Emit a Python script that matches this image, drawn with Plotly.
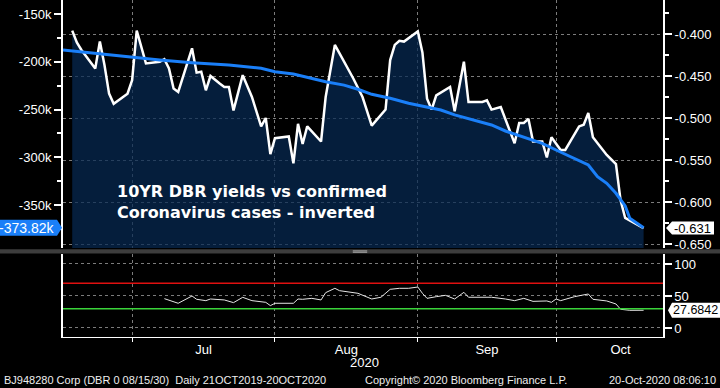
import plotly.graph_objects as go

# ---------------- data ----------------
yield_dates = ["2020-06-18","2020-06-19","2020-06-20","2020-06-23","2020-06-24","2020-06-25","2020-06-26","2020-06-27",
               "2020-06-30","2020-07-01","2020-07-02","2020-07-04","2020-07-07","2020-07-08","2020-07-09","2020-07-10",
               "2020-07-11","2020-07-14","2020-07-15","2020-07-16","2020-07-17","2020-07-18","2020-07-20","2020-07-21",
               "2020-07-22","2020-07-23","2020-07-25","2020-07-27","2020-07-29","2020-07-30","2020-07-31","2020-08-01",
               "2020-08-04","2020-08-05","2020-08-06","2020-08-07","2020-08-08","2020-08-11","2020-08-12","2020-08-14",
               "2020-08-18","2020-08-20","2020-08-22","2020-08-25","2020-08-26","2020-08-27","2020-08-28","2020-08-29",
               "2020-09-01","2020-09-02","2020-09-03","2020-09-04","2020-09-05","2020-09-08","2020-09-09","2020-09-11",
               "2020-09-12","2020-09-15","2020-09-16","2020-09-17","2020-09-19","2020-09-20","2020-09-22","2020-09-23",
               "2020-09-24","2020-09-25","2020-09-26","2020-09-28","2020-09-29","2020-09-30","2020-10-02","2020-10-03",
               "2020-10-06","2020-10-07","2020-10-08","2020-10-09","2020-10-11","2020-10-12","2020-10-14","2020-10-15",
               "2020-10-16","2020-10-18","2020-10-19","2020-10-20"]
yield_values = [-0.396,-0.410,-0.419,-0.441,-0.409,-0.437,-0.471,-0.483,-0.471,-0.455,-0.396,-0.435,-0.433,-0.430,
                -0.441,-0.465,-0.469,-0.417,-0.446,-0.445,-0.467,-0.450,-0.459,-0.463,-0.463,-0.491,-0.449,-0.475,
                -0.510,-0.500,-0.543,-0.524,-0.522,-0.554,-0.507,-0.531,-0.510,-0.528,-0.475,-0.413,-0.453,-0.475,
                -0.509,-0.490,-0.431,-0.413,-0.408,-0.409,-0.397,-0.422,-0.477,-0.490,-0.473,-0.463,-0.492,-0.433,
                -0.481,-0.481,-0.479,-0.490,-0.487,-0.502,-0.530,-0.506,-0.506,-0.501,-0.528,-0.528,-0.547,-0.523,
                -0.538,-0.538,-0.510,-0.508,-0.494,-0.523,-0.538,-0.544,-0.555,-0.598,-0.619,-0.625,-0.629,-0.631]

case_dates = ["2020-06-16","2020-06-18","2020-06-21","2020-06-23","2020-06-30","2020-07-07","2020-07-14","2020-07-22",
              "2020-07-29","2020-08-01","2020-08-05","2020-08-09","2020-08-12","2020-08-16","2020-08-19","2020-08-22",
              "2020-08-26","2020-08-30","2020-09-02","2020-09-06","2020-09-09","2020-09-13","2020-09-17","2020-09-20",
              "2020-09-24","2020-09-28","2020-10-01","2020-10-05","2020-10-08","2020-10-10","2020-10-12","2020-10-14",
              "2020-10-16","2020-10-17","2020-10-19","2020-10-20"]
case_values = [-187700,-188700,-190500,-191900,-195300,-198200,-201000,-203400,-206900,-210400,-212800,-217300,
               -220900,-224500,-228800,-234100,-238300,-243500,-246300,-250500,-255700,-261000,-266200,-272500,
               -279100,-285500,-292400,-301100,-308100,-320400,-327300,-337700,-351000,-363900,-370900,-373820]

rsi_dates = ["2020-07-08","2020-07-11","2020-07-14","2020-07-15","2020-07-17","2020-07-18","2020-07-21","2020-07-23",
             "2020-07-25","2020-07-27","2020-07-30","2020-07-31","2020-08-01","2020-08-05","2020-08-06","2020-08-07",
             "2020-08-09","2020-08-11","2020-08-12","2020-08-14","2020-08-15","2020-08-19","2020-08-22","2020-08-24",
             "2020-08-26","2020-08-28","2020-08-30","2020-09-01","2020-09-02","2020-09-03","2020-09-05","2020-09-07",
             "2020-09-09","2020-09-11","2020-09-12","2020-09-17","2020-09-20","2020-09-22","2020-09-24","2020-09-26",
             "2020-09-29","2020-09-30","2020-10-01","2020-10-02","2020-10-05","2020-10-08","2020-10-09","2020-10-12",
             "2020-10-14","2020-10-15","2020-10-17","2020-10-20"]
rsi_values = [45.8,38.6,50.0,44.8,42.7,45.3,43.8,39.6,47.9,42.7,40.1,34.9,38.6,38.6,45.3,44.8,46.3,43.8,55.2,62.0,
              58.3,54.2,45.3,48.0,60.4,62.0,62.0,64.0,54.2,46.3,48.9,51.0,45.3,55.7,48.0,48.0,45.3,42.7,46.3,41.6,
              42.2,40.1,45.3,42.7,48.9,53.1,44.8,42.2,37.5,29.2,27.6,27.6842]

month_label_dates = ["2020-07-16 12:00", "2020-08-16 12:00", "2020-09-16", "2020-10-15"]
month_labels = ["Jul", "Aug", "Sep", "Oct"]
case_ticks = [-150000, -200000, -250000, -300000, -350000]
case_ticktext = ["-150k", "-200k", "-250k", "-300k", "-350k"]
yield_ticks = [-0.400, -0.450, -0.500, -0.550, -0.600, -0.650]
yield_ticktext = ["-0.400", "-0.450", "-0.500", "-0.550", "-0.600", "-0.650"]
rsi_ticks = [0, 50, 100]
rsi_upper, rsi_lower = 70, 30

title_text = "10YR DBR yields vs confirmed<br>Coronavirus cases - inverted"
year_label = "2020"
footer_left = "BJ948280 Corp (DBR 0 08/15/30)  Daily 21OCT2019-20OCT2020"
footer_mid = "Copyright\u00a9 2020 Bloomberg Finance L.P."
footer_right = "20-Oct-2020 08:06:10"

# ---------------- styling ----------------
WHITE = "#ffffff"
BLUE = "#1a7ff8"
GRID = "#7c7c7c"
FONT = "Liberation Sans"
FILL_FLOOR = -0.70  # below the axis range so the fill reaches the panel bottom

fig = go.Figure()

fig.add_trace(go.Scatter(x=yield_dates, y=[FILL_FLOOR] * len(yield_dates), xaxis="x2", yaxis="y",
                         mode="lines", line=dict(width=0), hoverinfo="skip", showlegend=False))
fig.add_trace(go.Scatter(x=yield_dates, y=yield_values, xaxis="x2", yaxis="y", mode="lines",
                         line=dict(color=WHITE, width=2.5), fill="tonexty",
                         fillcolor="rgba(7,41,83,0.72)", showlegend=False))
fig.add_trace(go.Scatter(x=case_dates, y=case_values, xaxis="x2", yaxis="y2", mode="lines",
                         line=dict(color=BLUE, width=3), showlegend=False))
fig.add_trace(go.Scatter(x=rsi_dates, y=rsi_values, xaxis="x", yaxis="y3", mode="lines",
                         line=dict(color="#e6e6e6", width=1), showlegend=False))

tickfont = dict(family=FONT, size=13, color=WHITE)
xrange = ["2020-06-16", "2020-10-24 05:00"]
TOP_DOM = [0.2641, 1.0]
BOT_DOM = [0.0, 0.2463]
month_minor = dict(tick0="2020-07-01", dtick="M1", ticks="outside", ticklen=4, tickcolor=WHITE,
                   showgrid=True, gridcolor=GRID, griddash="dot", gridwidth=1)

fig.update_layout(
    width=720, height=388,
    margin=dict(l=63, r=57, t=0, b=51, autoexpand=False),
    paper_bgcolor="black", plot_bgcolor="black",
    font=dict(family=FONT, color=WHITE, size=13),
    showlegend=False,
    xaxis=dict(domain=[0, 1], anchor="y3", range=xrange, type="date", automargin=False,
               tickmode="array", tickvals=month_label_dates, ticktext=month_labels, ticks="",
               tickfont=tickfont, minor=month_minor,
               showline=True, linecolor=WHITE, linewidth=1, showgrid=False, zeroline=False),
    xaxis2=dict(domain=[0, 1], anchor="y", matches="x", range=xrange, type="date", automargin=False,
                tickmode="array", tickvals=month_label_dates, showticklabels=False, ticks="",
                minor=dict(tick0="2020-07-01", dtick="M1", ticks="", showgrid=True, gridcolor=GRID,
                           griddash="dot", gridwidth=1),
                showline=False, showgrid=False, zeroline=False),
    yaxis=dict(domain=TOP_DOM, anchor="x2", side="right", range=[-0.65476, -0.35952], automargin=False,
               tickmode="array", tickvals=yield_ticks, ticktext=yield_ticktext, tickfont=tickfont,
               ticks="outside", ticklen=7, tickwidth=2, tickcolor=WHITE,
               minor=dict(tick0=0, dtick=0.025, ticks="outside", ticklen=4, tickcolor=WHITE, showgrid=False),
               showline=True, linecolor=WHITE, linewidth=2,
               showgrid=True, gridcolor=GRID, griddash="dot", gridwidth=1, zeroline=False),
    yaxis2=dict(overlaying="y", anchor="x2", side="left", range=[-395025, -135340], automargin=False,
                tickmode="array", tickvals=case_ticks, ticktext=case_ticktext, tickfont=tickfont,
                ticks="outside", ticklen=7, tickwidth=2, tickcolor=WHITE,
                minor=dict(tick0=0, dtick=25000, ticks="outside", ticklen=4, tickcolor=WHITE, showgrid=False),
                showline=True, linecolor=WHITE, linewidth=2, showgrid=False, zeroline=False),
    yaxis3=dict(domain=BOT_DOM, anchor="x", side="right", range=[-14.1, 115.6], automargin=False,
                tickmode="array", tickvals=rsi_ticks, tickfont=tickfont,
                ticks="outside", ticklen=7, tickwidth=2, tickcolor=WHITE,
                showline=True, mirror=True, linecolor=WHITE, linewidth=1.5,
                showgrid=True, gridcolor=GRID, griddash="dot", gridwidth=1, zeroline=False),
)

shapes = []
shapes.append(dict(type="line", xref="x domain", yref="y3", x0=0, x1=1, y0=rsi_upper, y1=rsi_upper,
                   line=dict(color="#e01010", width=1.5)))
shapes.append(dict(type="line", xref="x domain", yref="y3", x0=0, x1=1, y0=rsi_lower, y1=rsi_lower,
                   line=dict(color="#3ad43a", width=1.5)))
shapes.append(dict(type="rect", xref="paper", yref="paper", x0=-0.106, x1=1.096, y0=0.2478, y1=0.2602,
                   fillcolor="#3d3d3d", line=dict(width=0), layer="above"))
for yy in (0.2555, 0.2515):
    shapes.append(dict(type="line", xref="paper", yref="paper", x0=0.483, x1=0.507, y0=yy, y1=yy,
                       line=dict(color="#a8a8a8", width=1), layer="above"))
shapes.append(dict(type="path", xref="paper", yref="y2", xsizemode="pixel", ysizemode="pixel",
                   xanchor=0, yanchor=case_values[-1],
                   path="M-63,-8 L-6,-8 L-1,0 L-6,8 L-63,8 Z", fillcolor=BLUE, line=dict(width=0)))
shapes.append(dict(type="path", xref="paper", yref="y", xsizemode="pixel", ysizemode="pixel",
                   xanchor=1, yanchor=yield_values[-1],
                   path="M3,0 L9,-6.5 L51,-6.5 L51,6.5 L9,6.5 Z", fillcolor=WHITE, line=dict(width=0)))
shapes.append(dict(type="path", xref="paper", yref="y3", xsizemode="pixel", ysizemode="pixel",
                   xanchor=1, yanchor=rsi_values[-1],
                   path="M5,0 L9,-7.5 L60,-7.5 L60,7.5 L9,7.5 Z", fillcolor=WHITE, line=dict(width=0)))
fig.update_layout(shapes=shapes)

annotations = [
    dict(text=title_text, xref="paper", yref="paper", x=0.0867, y=0.4006, xanchor="left", yanchor="middle",
         align="left", showarrow=False, font=dict(family="DejaVu Sans", size=16, color=WHITE, weight="bold")),
    dict(text=f"{case_values[-1] / 1000:.2f}k", xref="paper", yref="y2", x=0, y=case_values[-1],
         xanchor="right", yanchor="middle", xshift=-7, showarrow=False,
         font=dict(family=FONT, size=14, color=WHITE)),
    dict(text=f"{yield_values[-1]:.3f}", xref="paper", yref="y", x=1, y=yield_values[-1],
         xanchor="left", yanchor="middle", xshift=9, showarrow=False,
         font=dict(family=FONT, size=13, color="black")),
    dict(text=f"{rsi_values[-1]:.4f}", xref="paper", yref="y3", x=1, y=rsi_values[-1],
         xanchor="left", yanchor="middle", xshift=8, showarrow=False,
         font=dict(family=FONT, size=12.5, color="black")),
    dict(text=year_label, xref="paper", yref="paper", x=0.502, y=-0.077, xanchor="center", yanchor="middle",
         showarrow=False, font=dict(family=FONT, size=13, color=WHITE)),
    dict(text=footer_left, xref="paper", yref="paper", x=-0.102, y=-0.127, xanchor="left", yanchor="middle",
         showarrow=False, font=dict(family=FONT, size=11, color="#eeeeee")),
    dict(text=footer_mid, xref="paper", yref="paper", x=0.5, y=-0.127, xanchor="left", yanchor="middle",
         showarrow=False, font=dict(family=FONT, size=11, color="#eeeeee")),
    dict(text=footer_right, xref="paper", yref="paper", x=1.092, y=-0.127, xanchor="right", yanchor="middle",
         showarrow=False, font=dict(family=FONT, size=11, color="#eeeeee")),
]
fig.update_layout(annotations=annotations)

fig.write_html("out.html", config={"displayModeBar": False},
               post_script="document.body.style.margin='0';document.body.style.background='black';")
